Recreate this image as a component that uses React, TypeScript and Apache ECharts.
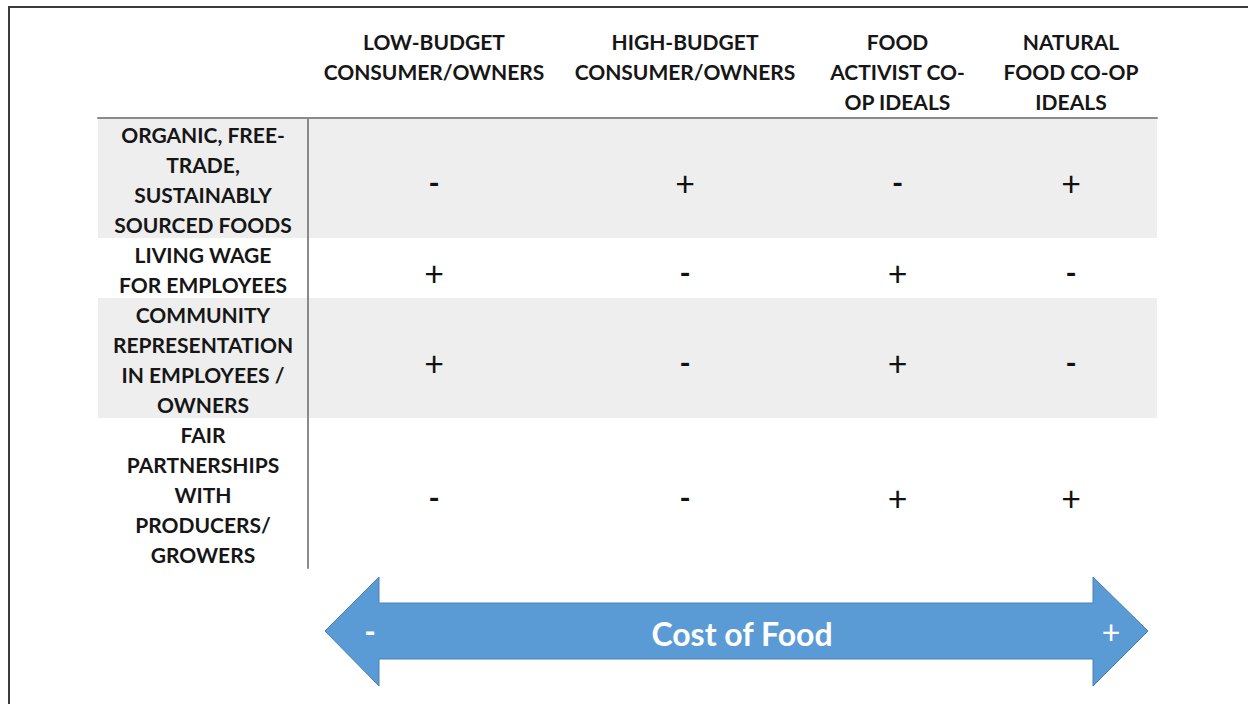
import React, { useEffect, useRef } from "react";
import * as echarts from "echarts";

// ---- data ----
const columnHeaders: string[] = [
  "LOW-BUDGET\nCONSUMER/OWNERS",
  "HIGH-BUDGET\nCONSUMER/OWNERS",
  "FOOD\nACTIVIST CO-\nOP IDEALS",
  "NATURAL\nFOOD CO-OP\nIDEALS",
];
const rowLabels: string[] = [
  "ORGANIC, FREE-\nTRADE,\nSUSTAINABLY\nSOURCED FOODS",
  "LIVING WAGE\nFOR EMPLOYEES",
  "COMMUNITY\nREPRESENTATION\nIN EMPLOYEES /\nOWNERS",
  "FAIR\nPARTNERSHIPS\nWITH\nPRODUCERS/\nGROWERS",
];
const cellSigns: string[][] = [
  ["-", "+", "-", "+"],
  ["+", "-", "+", "-"],
  ["+", "-", "+", "-"],
  ["-", "-", "+", "+"],
];
const arrowTitle = "Cost of Food";
const arrowLowEnd = "-";
const arrowHighEnd = "+";

// ---- layout (not data) ----
const LABEL_W = 210;
const COL_W = [252, 250, 175, 172];
const FONT = "Lato, 'Open Sans', sans-serif";

const colStart: number[] = [];
{
  let acc = 0;
  COL_W.forEach((w) => {
    colStart.push(acc);
    acc += w;
  });
}
const TOTAL_W = COL_W.reduce((a, b) => a + b, 0);
const rowLines = rowLabels.map((r) => r.split("\n").length);
const rowStart: number[] = [];
{
  let acc = 0;
  rowLines.forEach((n) => {
    rowStart.push(acc);
    acc += n;
  });
}
const TOTAL_LINES = rowLines.reduce((a, b) => a + b, 0);
const colCenter = (j: number) => colStart[j] + COL_W[j] / 2;
const rowMid = (i: number) => rowStart[i] + rowLines[i] / 2;

export default function App() {
  const ref = useRef<HTMLDivElement>(null);
  useEffect(() => {
    if (!ref.current) return;
    const chart = echarts.init(ref.current, null, { renderer: "svg" });

    const cellData: any[] = [];
    cellSigns.forEach((row, i) =>
      row.forEach((s, j) => cellData.push([colCenter(j), rowMid(i), s]))
    );

    const axisLineStyle = { color: "#8a8a8a", width: 2 };

    const option: any = {
      animation: false,
      backgroundColor: "#ffffff",
      grid: { left: 98, top: 118, width: LABEL_W + TOTAL_W, height: 450 },
      xAxis: {
        type: "value",
        min: -LABEL_W,
        max: TOTAL_W,
        position: "top",
        z: 10,
        axisLine: { show: true, onZero: true, lineStyle: axisLineStyle },
        axisTick: { show: false },
        axisLabel: { show: false },
        splitLine: { show: false },
      },
      yAxis: {
        type: "value",
        min: 0,
        max: TOTAL_LINES,
        inverse: true,
        z: 10,
        axisLine: { show: true, onZero: true, lineStyle: axisLineStyle },
        axisTick: { show: false },
        axisLabel: { show: false },
        splitLine: { show: false },
      },
      series: [
        {
          type: "custom",
          name: "bands",
          z: 1,
          data: rowLabels.map((_, i) => [i]),
          renderItem: (params: any, api: any) => {
            const i = params.dataIndex;
            const p0 = api.coord([-LABEL_W, rowStart[i]]);
            const p1 = api.coord([TOTAL_W, rowStart[i] + rowLines[i]]);
            return {
              type: "rect",
              shape: { x: p0[0], y: p0[1], width: p1[0] - p0[0], height: p1[1] - p0[1] },
              style: { fill: i % 2 === 0 ? "#eeeeee" : "rgba(0,0,0,0)" },
            };
          },
        },
        {
          type: "custom",
          name: "rowLabels",
          z: 3,
          data: rowLabels.map((_, i) => [i]),
          renderItem: (params: any, api: any) => {
            const i = params.dataIndex;
            const p = api.coord([-LABEL_W / 2, rowMid(i)]);
            return {
              type: "text",
              x: p[0],
              y: p[1] + 1,
              style: {
                text: rowLabels[i],
                fill: "#161616",
                font: `bold 21px ${FONT}`,
                lineHeight: 30,
                align: "center",
                verticalAlign: "middle",
              },
            };
          },
        },
        {
          type: "custom",
          name: "headers",
          z: 3,
          data: columnHeaders.map((_, j) => [j]),
          renderItem: (params: any, api: any) => {
            const j = params.dataIndex;
            const p = api.coord([colCenter(j), 0]);
            return {
              type: "text",
              x: p[0],
              y: p[1] - 92,
              style: {
                text: columnHeaders[j],
                fill: "#161616",
                font: `bold 21px ${FONT}`,
                lineHeight: 30,
                align: "center",
                verticalAlign: "top",
              },
            };
          },
        },
        {
          type: "custom",
          name: "cells",
          z: 3,
          data: cellData,
          renderItem: (params: any, api: any) => {
            const p = api.coord([api.value(0), api.value(1)]);
            const s = cellData[params.dataIndex][2];
            return {
              type: "text",
              x: p[0],
              y: p[1] + 4,
              style: {
                text: s,
                fill: "#111111",
                font: s === "+" ? `normal 34px ${FONT}` : `bold 30px ${FONT}`,
                align: "center",
                verticalAlign: "middle",
              },
            };
          },
        },
      ],
      graphic: [
        {
          type: "rect",
          shape: { x: 9, y: 7, width: 1400, height: 900 },
          style: { fill: "rgba(0,0,0,0)", stroke: "#3c3c3c", lineWidth: 2 },
          silent: true,
        },
        {
          type: "polygon",
          shape: {
            points: [
              [325, 631],
              [379, 577],
              [379, 603],
              [1093, 603],
              [1093, 577],
              [1148, 631],
              [1093, 686],
              [1093, 659],
              [379, 659],
              [379, 686],
            ],
          },
          style: { fill: "#5b9bd5", stroke: "#4a80b4", lineWidth: 1 },
        },
        {
          type: "text",
          x: 742,
          y: 633,
          style: {
            text: arrowTitle,
            fill: "#ffffff",
            font: `bold 32px ${FONT}`,
            align: "center",
            verticalAlign: "middle",
          },
        },
        {
          type: "text",
          x: 370,
          y: 631,
          style: {
            text: arrowLowEnd,
            fill: "#ffffff",
            font: `900 30px ${FONT}`,
            align: "center",
            verticalAlign: "middle",
          },
        },
        {
          type: "text",
          x: 1111,
          y: 631,
          style: {
            text: arrowHighEnd,
            fill: "#ffffff",
            font: `normal 32px ${FONT}`,
            align: "center",
            verticalAlign: "middle",
          },
        },
      ],
    };
    chart.setOption(option);
    return () => chart.dispose();
  }, []);
  return (
    <div
      ref={ref}
      style={{ position: "fixed", left: 0, top: 0, width: 1248, height: 704, background: "#fff" }}
    />
  );
}
